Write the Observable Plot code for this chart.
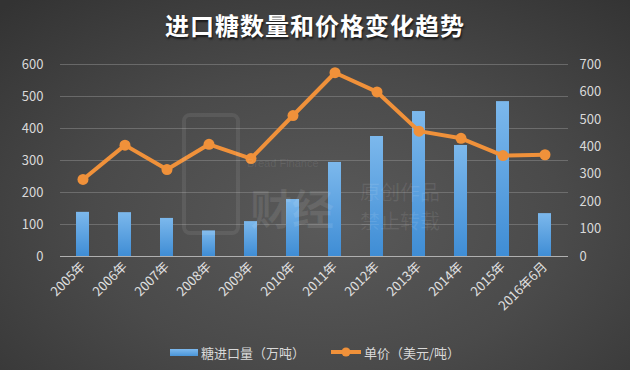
<!DOCTYPE html>
<html><head><meta charset="utf-8">
<script src="https://cdn.jsdelivr.net/npm/d3@7"></script>
<script src="https://cdn.jsdelivr.net/npm/@observablehq/plot@0.6"></script>
<style>
body{margin:0;background:#333;}
#wrap{position:relative;width:630px;height:370px;overflow:hidden;
 background:radial-gradient(ellipse 75% 80% at 52% 60%, #5a5a5a 0%, #4a4a4a 50%, #333 100%);
 font-family:"Noto Sans CJK SC","Noto Sans",sans-serif;}
#title{height:48px;box-sizing:border-box;padding-top:13px;text-align:center;color:#fff;font-size:24px;font-weight:bold;line-height:1;letter-spacing:1px;text-shadow:1px 2px 2px rgba(0,0,0,0.6);}
#chart svg{display:block;overflow:visible;}
.wm{position:absolute;color:rgba(255,255,255,0.09);white-space:nowrap;pointer-events:none;line-height:1;}
#legend{position:absolute;left:0;top:340px;width:630px;height:24px;font-size:13px;color:#d9d9d9;}
#legend .item{position:absolute;top:0;height:24px;display:flex;align-items:center;}
</style></head>
<body><div id="wrap">
<div id="title">进口糖数量和价格变化趋势</div>
<div id="chart"></div>
<div class="wm" style="left:182px;top:113px;width:58px;height:122px;border:4px solid rgba(255,255,255,0.08);border-radius:8px;box-sizing:border-box;"></div>
<div class="wm" style="left:247px;top:158px;font-size:11px;font-family:Arial,sans-serif;">Bread Finance</div>
<div class="wm" style="left:250px;top:186px;font-size:42px;font-weight:bold;">财经</div>
<div class="wm" style="left:360px;top:182px;font-size:20px;">原创作品</div>
<div class="wm" style="left:360px;top:211px;font-size:20px;">禁止转载</div>
<div id="legend">
 <div class="item" style="left:170px;"><span style="display:inline-block;width:28px;height:7px;background:linear-gradient(#7db9ee,#4a95d8);margin-right:3px;"></span>糖进口量（万吨）</div>
 <div class="item" style="left:330px;"><svg width="32" height="12" style="margin-right:2px"><line x1="1" y1="6" x2="31" y2="6" stroke="#f0913a" stroke-width="4"/><circle cx="16" cy="6" r="4.5" fill="#f0913a"/></svg>单价（美元/吨）</div>
</div>
</div>
<script>
const years = ["2005年","2006年","2007年","2008年","2009年","2010年","2011年","2012年","2013年","2014年","2015年","2016年6月"];
const volume = [138,137,119,80,109,178,294,375,453,347,484,134];
const price = [281,406,317,409,357,514,670,600,457,431,368,371];
const leftTicks = [0,100,200,300,400,500,600];
const rightTicks = [0,100,200,300,400,500,600,700];
const leftMax = 600, rightMax = 700;
const toLeft = v => v * leftMax / rightMax;

const data = years.map((y,i)=>({year:y, volume:volume[i], price:price[i]}));

const plot = Plot.plot({
  width: 630, height: 290,
  marginTop: 16, marginBottom: 82, marginLeft: 60, marginRight: 62,
  style: {background:"transparent", color:"#d9d9d9", fontFamily:'"Noto Sans CJK SC","Noto Sans",sans-serif'},
  x: {domain: years, paddingInner: 0.69, paddingOuter: 0.345, label: null},
  y: {domain: [0, leftMax], label: null},
  marks: [
    Plot.gridY(leftTicks.slice(1), {stroke:"#8a8a8a", strokeOpacity:0.55, strokeWidth:1}),
    Plot.barY(data, {x:"year", y:"volume", fill:"url(#barGrad)"}),
    Plot.ruleY([0], {stroke:"#b0b0b0", strokeWidth:1.2}),
    Plot.lineY(data, {x:"year", y:d=>toLeft(d.price), stroke:"#f0913a", strokeWidth:4, strokeLinejoin:"round"}),
    Plot.dot(data, {x:"year", y:d=>toLeft(d.price), r:5.5, fill:"#f0913a", stroke:null}),
    Plot.axisY(leftTicks, {anchor:"left", tickSize:0, tickPadding:17, fontSize:13, fill:"#d9d9d9", label:null}),
    Plot.axisY(rightTicks.map(toLeft), {anchor:"right", tickSize:0, tickPadding:11, fontSize:13, fill:"#d9d9d9", label:null, tickFormat:d=>String(Math.round(d*rightMax/leftMax))}),
    Plot.axisX({tickRotate:-45, tickSize:0, tickPadding:8, fontSize:13, fill:"#e0e0e0", label:null})
  ]
});
const ns = "http://www.w3.org/2000/svg";
const defs = document.createElementNS(ns,"defs");
defs.innerHTML = '<linearGradient id="barGrad" x1="0" y1="0" x2="0" y2="1"><stop offset="0" stop-color="#7cb8ec"/><stop offset="1" stop-color="#3f8dd5"/></linearGradient>';
plot.insertBefore(defs, plot.firstChild);
document.getElementById("chart").appendChild(plot);
</script>
</body></html>
